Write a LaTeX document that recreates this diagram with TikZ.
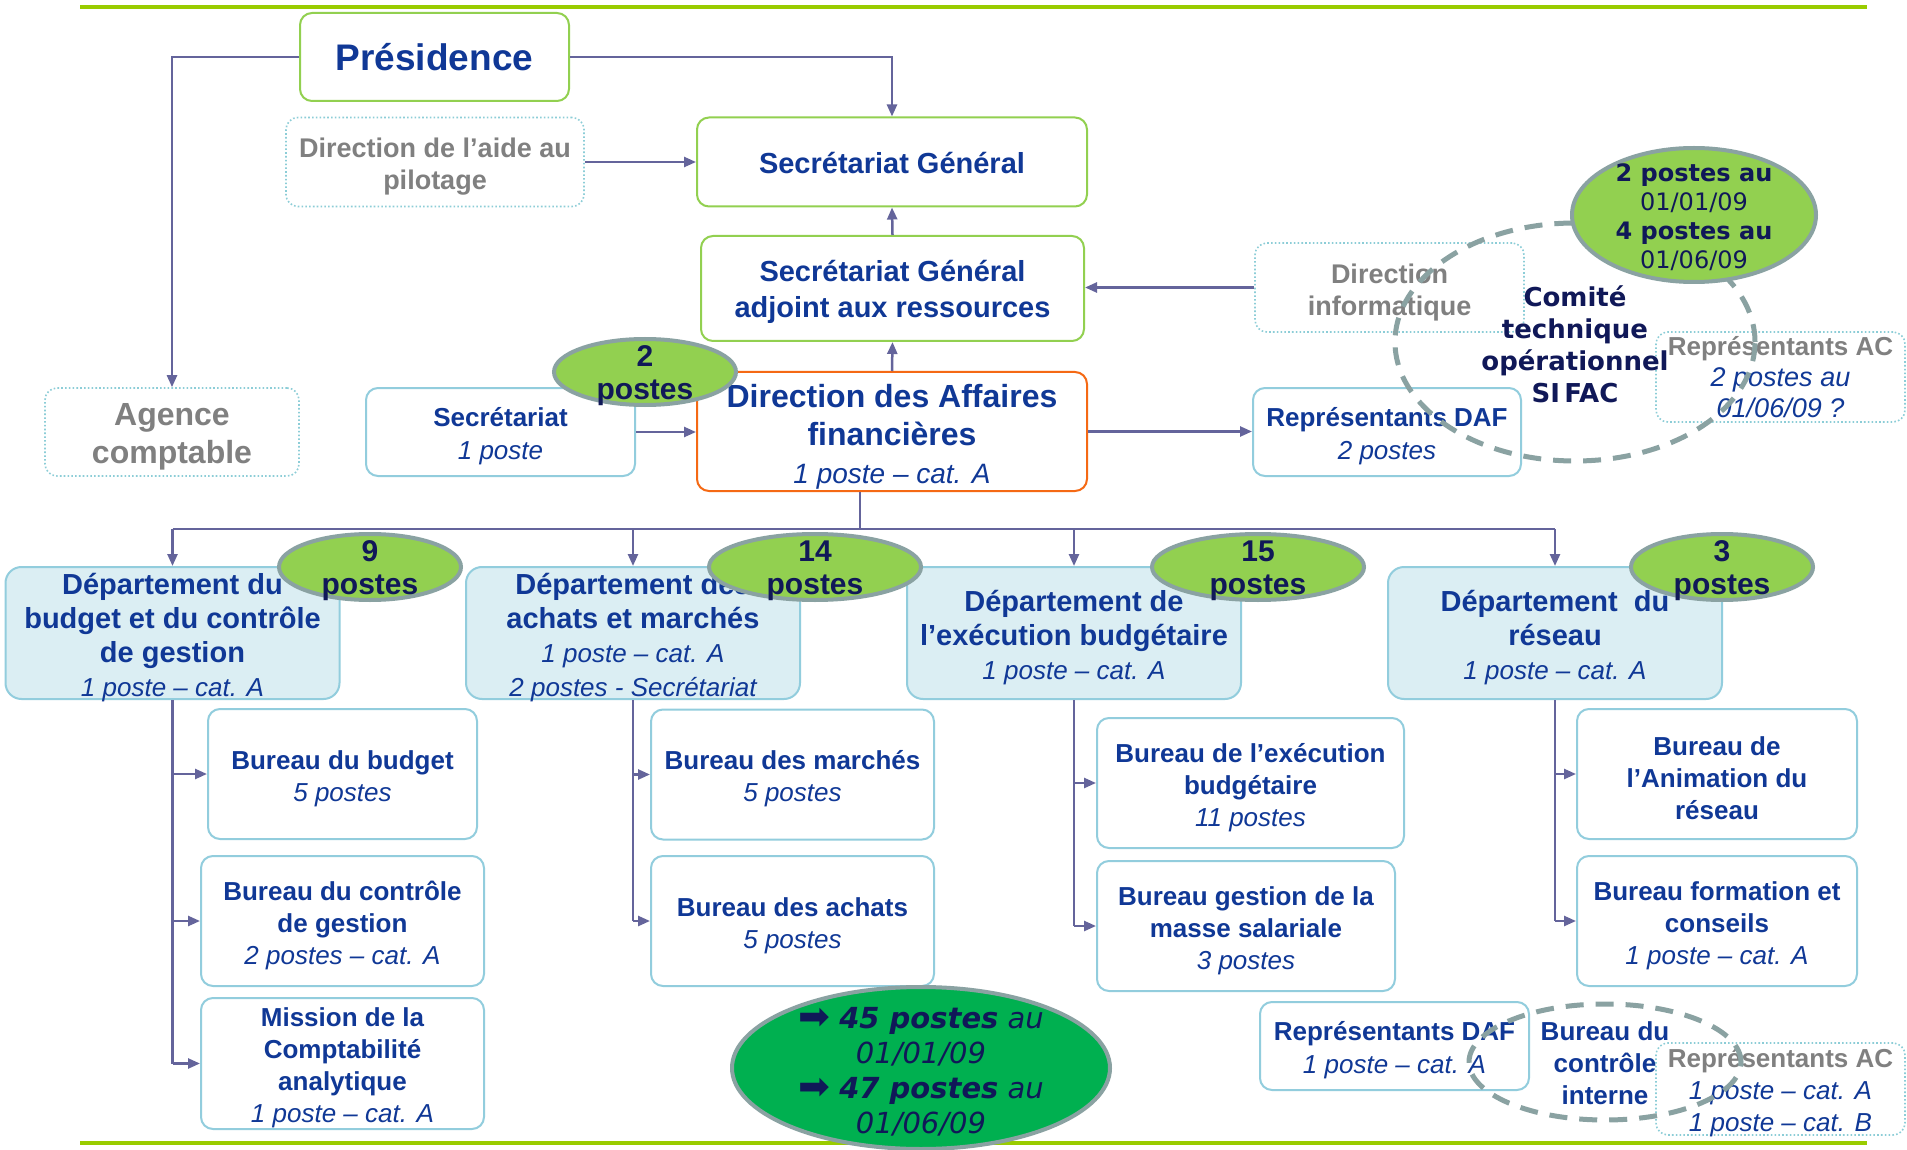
\documentclass[tikz,border=0pt]{standalone}
\usepackage{fontspec}
\setmainfont{Liberation Sans}
\newfontfamily\dvs{DejaVu Sans}[BoldFont={DejaVu Sans Bold},ItalicFont={DejaVu Sans Oblique},BoldItalicFont={DejaVu Sans Bold Oblique}]
\usetikzlibrary{arrows.meta,shapes.geometric}

\definecolor{txtblue}{RGB}{16,56,150}
\definecolor{txtgrey}{RGB}{128,128,128}
\definecolor{navy}{RGB}{16,24,88}
\definecolor{boxgreen}{RGB}{146,208,80}
\definecolor{boxcyan}{RGB}{146,205,221}
\definecolor{dotcyan}{RGB}{140,205,215}
\definecolor{deptfill}{RGB}{219,238,243}
\definecolor{orangeb}{RGB}{245,105,20}
\definecolor{linec}{RGB}{100,100,155}
\definecolor{badgegreen}{RGB}{146,208,80}
\definecolor{rim}{RGB}{138,162,162}
\definecolor{biggreen}{RGB}{0,176,80}
\definecolor{rulegreen}{RGB}{153,204,0}

\newcommand\fsz[2]{\fontsize{#1}{#2}\selectfont}
\newcommand\itpost{\mdseries\itshape}
\newcommand\postline[1]{{\itpost\fontsize{26}{34}\selectfont #1}}
\newcommand\bigarrow{\raisebox{-1pt}[0pt][0pt]{\upshape\mdseries\fontsize{38}{35}\selectfont ➡}}
% an org-chart box: [text offset]{box style}{name}{centre}{text style}{text}
\newcommand\orgbox[6][4.5pt]{%
  \node[#2] (#3) at (#4) {};
  \node[boxtext, #5] (#3-txt) at ([yshift=-#1]#3.center) {#6};}

\begin{document}
\begin{tikzpicture}[x=1pt,y=-1pt,
  box/.style={draw, rounded corners=12pt, line width=2pt, fill=white, inner sep=0pt},
  boxtext/.style={align=center, inner sep=0pt, text=txtblue},
  greenbox/.style={box, draw=boxgreen},
  cyanbox/.style={box, draw=boxcyan},
  ghostbox/.style={box, draw=dotcyan, line width=1.6pt, dash pattern=on 1.6pt off 2.2pt},
  dafbox/.style={box, draw=orangeb},
  dept/.style={box, draw=boxcyan, fill=deptfill, rounded corners=16pt, minimum width=334pt, minimum height=132pt},
  depttext/.style={font=\fsz{29}{34}\bfseries},
  bur/.style={cyanbox, minimum height=130pt},
  burtext/.style={font=\fsz{26}{32}\bfseries},
  badge/.style={ellipse, draw=rim, line width=4pt, fill=badgegreen, inner sep=0pt, minimum height=66pt},
  badgetext/.style={font=\fsz{30}{33}\bfseries, text=navy, align=center, inner sep=0pt},
  conn/.style={draw=linec, line width=2.5pt, -{Triangle[length=12pt,width=10pt]}},
  plain/.style={draw=linec, line width=2.5pt},
  dashring/.style={draw=rim, line width=5pt, dash pattern=on 18pt off 12pt},
  rule/.style={draw=rulegreen, line width=4pt}]

\useasboundingbox (0,0) rectangle (1907,1150);
\fill[white] (0,0) rectangle (1907,1150);

% horizontal rules
\draw[rule] (80,7) -- (1867,7);
\draw[rule] (80,1143) -- (1867,1143);

% upper levels
\orgbox[0pt]{greenbox, minimum width=269pt, minimum height=88pt}{pres}{434.5,57}{font=\fsz{37}{44}\bfseries}{Présidence}
\orgbox[5pt]{ghostbox, minimum width=298pt, minimum height=89pt}{aide}{435,162}{font=\fsz{27}{32}\bfseries, text=txtgrey}{Direction de l’aide au\\pilotage}
\orgbox[1pt]{greenbox, minimum width=390pt, minimum height=89pt}{sg}{892,162}{font=\fsz{29}{36}\bfseries}{Secrétariat Général}
\orgbox[3pt]{greenbox, minimum width=383pt, minimum height=105pt}{sga}{892.5,288.5}{font=\fsz{29}{36}\bfseries}{Secrétariat Général\\adjoint aux ressources}
\orgbox[5pt]{ghostbox, minimum width=269pt, minimum height=89pt}{info}{1389.5,287.5}{font=\fsz{27}{32}\bfseries, text=txtgrey}{Direction\\informatique}
\orgbox[5pt]{ghostbox, minimum width=254pt, minimum height=88pt}{agence}{172,432}{font=\fsz{32}{38}\bfseries, text=txtgrey}{Agence\\comptable}
\orgbox[4pt]{cyanbox, minimum width=269pt, minimum height=88pt}{secr}{500.5,432}{font=\fsz{26}{33}\bfseries}{Secrétariat\\\itpost 1 poste}
\orgbox[5.5pt]{dafbox, minimum width=390pt, minimum height=119pt}{daf}{892,431.5}{font=\fsz{32}{38}\bfseries}{Direction des Affaires\\financières\\\itpost\fontsize{28}{38}\selectfont 1 poste – cat. A}
\orgbox[4pt]{cyanbox, minimum width=268pt, minimum height=88pt}{repdaf}{1387,432}{font=\fsz{26}{33}\bfseries}{Représentants DAF\\\itpost 2 postes}
\orgbox[0.5pt]{ghostbox, minimum width=249pt, minimum height=90pt}{repac}{1780.5,377}{font=\fsz{26}{31}\bfseries, text=txtgrey}{Représentants AC\\{\itpost\fontsize{27}{31}\selectfont\color{txtblue}2 postes au}\\{\itpost\fontsize{27}{31}\selectfont\color{txtblue}01/06/09 ?}}

% upper connectors
\draw[conn] (pres.west) -| (agence.north);
\draw[conn] (pres.east) -| (sg.north);
\draw[conn] (aide.east) -- (sg.west);
\draw[conn] (sga.north) -- (sg.south);
\draw[conn] (daf.north) -- (sga.south);
\draw[conn] (info.west) -- (info.west -| sga.east);
\draw[conn] (secr.east) -- (secr.east -| daf.west);
\draw[conn] (daf.east) -- (daf.east -| repdaf.west);

% departments
\orgbox[5pt]{dept}{d1}{172.5,633}{depttext}{Département du\\budget et du contrôle\\de gestion\\\postline{1 poste – cat. A}}
\orgbox[4.5pt]{dept}{d2}{633,633}{depttext}{Département des\\achats et marchés\\\postline{1 poste – cat. A}\\\postline{2 postes - Secrétariat}}
\orgbox[4.5pt]{dept}{d3}{1074,633}{depttext}{Département de\\l’exécution budgétaire\\\postline{1 poste – cat. A}}
\orgbox[4.5pt]{dept}{d4}{1555,633}{depttext}{Département\ \ du\\réseau\\\postline{1 poste – cat. A}}

% distribution bus
\coordinate (bus) at (860,529);
\draw[plain] (bus |- daf.south) -- (bus);
\draw[plain] (bus -| d1.north) -- (bus -| d4.north);
\foreach \d in {d1,d2,d3,d4} \draw[conn] (bus -| \d.north) -- (\d.north);

% offices
\orgbox{bur, minimum width=269pt}{bbud}{342.5,774}{burtext}{Bureau du budget\\\itpost 5 postes}
\orgbox{bur, minimum width=283pt}{bcg}{342.5,921}{burtext}{Bureau du contrôle\\de gestion\\\itpost 2 postes – cat. A}
\orgbox{bur, minimum width=283pt, minimum height=131pt}{bmca}{342.5,1063.5}{burtext}{Mission de la\\Comptabilité\\analytique\\\itpost 1 poste – cat. A}
\orgbox{bur, minimum width=283pt}{bmar}{792.5,774.5}{burtext}{Bureau des marchés\\\itpost 5 postes}
\orgbox{bur, minimum width=283pt}{bach}{792.5,921}{burtext}{Bureau des achats\\\itpost 5 postes}
\orgbox{bur, minimum width=307pt}{bexe}{1250.5,783}{burtext}{Bureau de l’exécution\\budgétaire\\\itpost 11 postes}
\orgbox{bur, minimum width=298pt}{bmas}{1246,926}{burtext}{Bureau gestion de la\\masse salariale\\\itpost 3 postes}
\orgbox{bur, minimum width=280pt}{bani}{1717,774}{burtext}{Bureau de\\l’Animation du\\réseau}
\orgbox{bur, minimum width=280pt}{bfor}{1717,921}{burtext}{Bureau formation et\\conseils\\\itpost 1 poste – cat. A}

% department trunks
\draw[plain] (d1.south) -- (d1.south |- bmca.west);
\foreach \b in {bbud,bcg,bmca} \draw[conn] (d1.south |- \b.west) -- (\b.west);
\draw[plain] (d2.south) -- (d2.south |- bach.west);
\foreach \b in {bmar,bach} \draw[conn] (d2.south |- \b.west) -- (\b.west);
\draw[plain] (d3.south) -- (d3.south |- bmas.west);
\foreach \b in {bexe,bmas} \draw[conn] (d3.south |- \b.west) -- (\b.west);
\draw[plain] (d4.south) -- (d4.south |- bfor.west);
\foreach \b in {bani,bfor} \draw[conn] (d4.south |- \b.west) -- (\b.west);

% staff badges
\node[badge, minimum width=182pt] (bg2) at (645,372) {};
\node[badgetext] (tg2) at ([yshift=-4pt]bg2.center) {2\\postes};
\node[badge, minimum width=182pt] (bg9) at (370,567) {};
\node[badgetext] (tg9) at ([yshift=-4pt]bg9.center) {9\\postes};
\node[badge, minimum width=212pt] (bg14) at (815,567) {};
\node[badgetext] (tg14) at ([yshift=-4pt]bg14.center) {14\\postes};
\node[badge, minimum width=212pt] (bg15) at (1258,567) {};
\node[badgetext] (tg15) at ([yshift=-4pt]bg15.center) {15\\postes};
\node[badge, minimum width=182pt] (bg3) at (1722,567) {};
\node[badgetext] (tg3) at ([yshift=-4pt]bg3.center) {3\\postes};

% SIFAC committee
\node[ellipse, dashring, minimum width=360pt, minimum height=238pt] (ring) at (1575,342) {};
\node[font=\dvs\fsz{26}{32}\bfseries, text=navy, align=center, inner sep=0pt] (cto) at (1575,344) {Comité\\technique\\opérationnel\\SI\,FAC};
\node[ellipse, draw=rim, line width=4pt, fill=badgegreen, minimum width=244pt, minimum height=134pt, inner sep=0pt] (sifac) at (1694,215) {};
\node[font=\dvs\fsz{24}{29}, text=navy, align=center, inner sep=0pt] (sifactxt) at (1694,217) {\textbf{2 postes au}\\01/01/09\\\textbf{4 postes au}\\01/06/09};

% bottom row
\node[ellipse, draw=rim, line width=4pt, fill=biggreen, minimum width=378pt, minimum height=162pt, inner sep=0pt] (tot) at (921,1068) {};
\node[font=\dvs\fsz{29}{35}\itshape, text=navy, align=center, inner sep=0pt] (tottxt) at (921,1072) {\bigarrow\ \textbf{45 postes} au\\01/01/09\\\bigarrow\ \textbf{47 postes} au\\01/06/09};

\orgbox[4pt]{cyanbox, minimum width=269pt, minimum height=88pt}{repdaf2}{1394.5,1046}{font=\fsz{26}{33}\bfseries}{Représentants DAF\\\itpost 1 poste – cat. A}
\orgbox[4pt]{ghostbox, minimum width=249pt, minimum height=92pt}{repac2}{1780.5,1089}{font=\fsz{26}{32}\bfseries, text=txtgrey}{Représentants AC\\{\itpost\color{txtblue}1 poste – cat. A}\\{\itpost\color{txtblue}1 poste – cat. B}}
\node[font=\fsz{26}{32}\bfseries, text=txtblue, align=center, inner sep=0pt] (bci) at (1605,1063) {Bureau du\\contrôle\\interne};
\node[ellipse, dashring, minimum width=272pt, minimum height=116pt] (ring2) at (1605,1062) {};

\end{tikzpicture}
\end{document}
